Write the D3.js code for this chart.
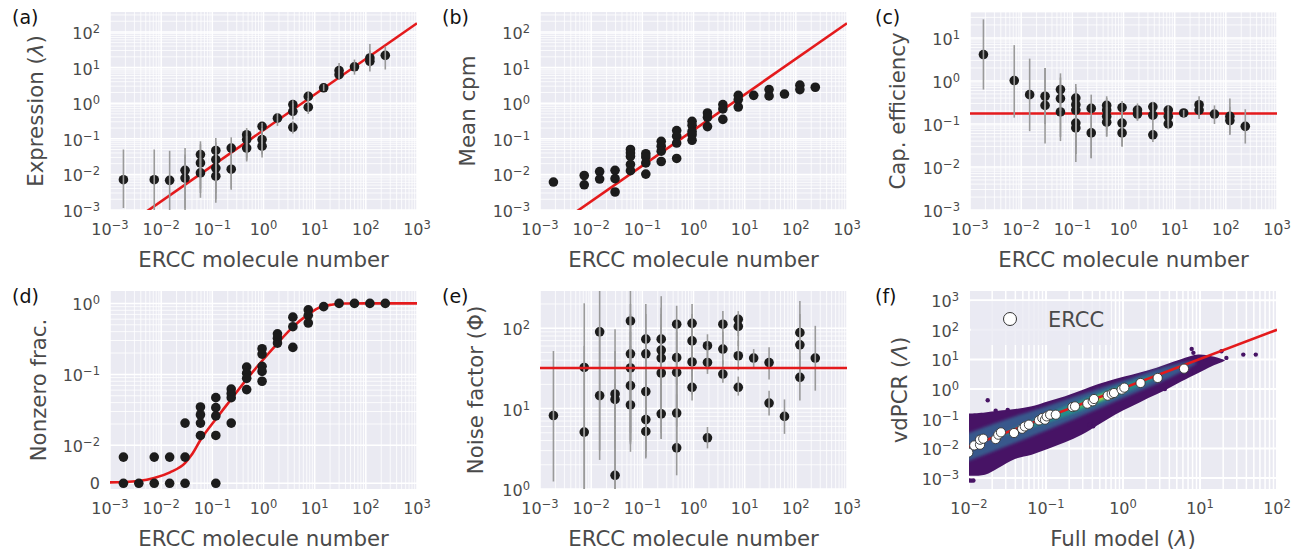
<!DOCTYPE html>
<html>
<head>
<meta charset="utf-8">
<script src="https://cdn.jsdelivr.net/npm/d3@7"></script>
<style>
  body { margin: 0; background: #fff; }
  text { font-family: "DejaVu Sans", sans-serif; }
</style>
</head>
<body>
<svg id="chart" width="1299" height="553"></svg>
<script>
// ---- data ----
// ERCC molecule number (x), value, error low, error high
const exprData = [
  [0.00183, 0.0071, 0.00114, 0.05], [0.00732, 0.0071, 0.0009, 0.05], [0.01465, 0.0068, 0.0009, 0.046],
  [0.0293, 0.013, 0.0009, 0.055], [0.0293, 0.0079, 0.0011, 0.036],
  [0.0586, 0.036, 0.0022, 0.085], [0.0586, 0.021, 0.003, 0.07], [0.0586, 0.011, 0.004, 0.03],
  [0.117, 0.047, 0.0016, 0.105], [0.117, 0.026, 0.003, 0.08], [0.117, 0.015, 0.004, 0.05], [0.117, 0.0089, 0.002, 0.04],
  [0.234, 0.055, 0.0037, 0.11], [0.234, 0.014, 0.004, 0.035],
  [0.469, 0.13, 0.03, 0.2], [0.469, 0.095, 0.025, 0.18], [0.469, 0.055, 0.023, 0.12],
  [0.9375, 0.224, 0.07, 0.28], [0.9375, 0.095, 0.036, 0.2], [0.9375, 0.062, 0.03, 0.15],
  [1.875, 0.38, 0.23, 0.53],
  [3.75, 0.91, 0.5, 1.2], [3.75, 0.59, 0.35, 1.0], [3.75, 0.21, 0.14, 0.31],
  [7.5, 1.55, 0.9, 2.2], [7.5, 0.77, 0.5, 1.4],
  [15, 2.7, 2.2, 3.4],
  [30, 8.2, 5, 13.5], [30, 6.3, 4.6, 10],
  [60, 10.5, 6.3, 16.8],
  [120, 18.6, 10, 46], [120, 15, 7.8, 30],
  [240, 22, 8.8, 39]
];

const cpmData = [
  [0.00183, 0.0061],
  [0.00732, 0.0093], [0.00732, 0.0051],
  [0.01465, 0.012], [0.01465, 0.0074],
  [0.0293, 0.013], [0.0293, 0.0076], [0.0293, 0.0032],
  [0.0586, 0.05], [0.0586, 0.04], [0.0586, 0.032], [0.0586, 0.019], [0.0586, 0.0127],
  [0.117, 0.038], [0.117, 0.031], [0.117, 0.021], [0.117, 0.0102],
  [0.234, 0.085], [0.234, 0.062], [0.234, 0.045], [0.234, 0.023],
  [0.469, 0.17], [0.469, 0.118], [0.469, 0.076], [0.469, 0.028],
  [0.9375, 0.31], [0.9375, 0.24], [0.9375, 0.16], [0.9375, 0.13], [0.9375, 0.091],
  [1.875, 0.53], [1.875, 0.40], [1.875, 0.22],
  [3.75, 0.91], [3.75, 0.69], [3.75, 0.35],
  [7.5, 1.66], [7.5, 1.26], [7.5, 0.78],
  [15, 1.66],
  [30, 2.4], [30, 1.6],
  [60, 1.8],
  [120, 3.2], [120, 2.4],
  [240, 2.8]
];

const capData = [
  [0.00183, 4.1, 0.63, 27], [0.00732, 1.02, 0.14, 6.8], [0.01465, 0.48, 0.068, 3.3],
  [0.0293, 0.44, 0.1, 2.0], [0.0293, 0.27, 0.035, 2.0],
  [0.0586, 0.63, 0.2, 1.5], [0.0586, 0.39, 0.04, 1.2], [0.0586, 0.19, 0.05, 0.8],
  [0.117, 0.4, 0.05, 0.85], [0.117, 0.28, 0.013, 0.7], [0.117, 0.21, 0.03, 0.5], [0.117, 0.105, 0.02, 0.4], [0.117, 0.081, 0.02, 0.3],
  [0.234, 0.23, 0.016, 0.48], [0.234, 0.062, 0.016, 0.15],
  [0.469, 0.27, 0.1, 0.44], [0.469, 0.21, 0.07, 0.4], [0.469, 0.15, 0.051, 0.3], [0.469, 0.11, 0.051, 0.25],
  [0.9375, 0.24, 0.08, 0.34], [0.9375, 0.105, 0.03, 0.2], [0.9375, 0.062, 0.03, 0.15],
  [1.875, 0.21, 0.12, 0.3], [1.875, 0.17, 0.12, 0.25],
  [3.75, 0.25, 0.13, 0.33], [3.75, 0.16, 0.08, 0.28], [3.75, 0.056, 0.038, 0.08],
  [7.5, 0.21, 0.12, 0.27], [7.5, 0.15, 0.09, 0.25], [7.5, 0.1, 0.075, 0.2],
  [15, 0.18, 0.14, 0.21],
  [30, 0.28, 0.15, 0.44], [30, 0.21, 0.13, 0.35],
  [60, 0.17, 0.1, 0.27],
  [120, 0.15, 0.059, 0.39], [120, 0.12, 0.055, 0.25],
  [240, 0.088, 0.035, 0.22]
];

const nonzeroData = [
  [0.00183, 0.0069], [0.00183, 0], [0.00366, 0],
  [0.00732, 0.0069], [0.00732, 0], [0.01465, 0.0069], [0.01465, 0],
  [0.0293, 0.0206], [0.0293, 0.0069], [0.0293, 0],
  [0.0586, 0.0347], [0.0586, 0.027], [0.0586, 0.0206], [0.0586, 0.0138],
  [0.117, 0.047], [0.117, 0.034], [0.117, 0.026], [0.117, 0.0138], [0.117, 0],
  [0.234, 0.062], [0.234, 0.054], [0.234, 0.047], [0.234, 0.0206],
  [0.469, 0.127], [0.469, 0.104], [0.469, 0.088], [0.469, 0.061],
  [0.9375, 0.23], [0.9375, 0.193], [0.9375, 0.13], [0.9375, 0.11], [0.9375, 0.08],
  [1.875, 0.373], [1.875, 0.324], [1.875, 0.276],
  [3.75, 0.64], [3.75, 0.47], [3.75, 0.24],
  [7.5, 0.81], [7.5, 0.68], [7.5, 0.53],
  [15, 0.9], [30, 1.0], [60, 1.0], [120, 1.0], [240, 1.0]
];
const nonzeroCurve = [
  [0.001, 0.00026], [0.00196, 0.00034], [0.00357, 0.0006], [0.0073, 0.0014], [0.0149, 0.0029],
  [0.0292, 0.0053], [0.0394, 0.0075], [0.059, 0.012], [0.1175, 0.0235], [0.23, 0.044],
  [0.467, 0.085], [0.915, 0.152], [1.86, 0.272], [3.68, 0.46], [7.24, 0.69], [11.7, 0.86],
  [21.3, 0.96], [39, 0.995], [100, 1.0], [1000, 1.0]
];

const noiseData = [
  [0.00183, 8.2, 1.24, 52],
  [0.00732, 32.5, 1, 204], [0.00732, 5.1, 1, 60],
  [0.01465, 90, 2.3, 300], [0.01465, 14.5, 3, 100],
  [0.0293, 15.2, 1, 97], [0.0293, 13, 3.2, 52], [0.0293, 1.48, 1, 20],
  [0.0586, 123, 3.6, 300], [0.0586, 48, 5, 200], [0.0586, 32, 4, 150], [0.0586, 19.3, 2.9, 90], [0.0586, 11.1, 3.8, 60],
  [0.117, 73, 3, 200], [0.117, 48, 3, 150], [0.117, 16.3, 2.4, 80], [0.117, 7.3, 3, 40], [0.117, 5.2, 2.5, 30],
  [0.234, 73, 10, 250], [0.234, 53.5, 4.2, 180], [0.234, 42.5, 8, 150], [0.234, 27.7, 5, 110], [0.234, 8.6, 4.2, 40],
  [0.469, 112, 20, 190], [0.469, 43, 10, 120], [0.469, 28.2, 6, 90], [0.469, 8.8, 3, 30], [0.469, 3.25, 1.48, 15],
  [0.9375, 115, 40, 200], [0.9375, 69.5, 25, 150], [0.9375, 38, 15, 100], [0.9375, 18.4, 12.6, 40],
  [1.875, 60.5, 30, 84], [1.875, 37.5, 27, 60], [1.875, 4.33, 3.2, 5.9],
  [3.75, 112, 60, 163], [3.75, 55, 35, 90], [3.75, 26.9, 21, 40],
  [7.5, 129, 80, 163], [7.5, 105, 60, 150], [7.5, 45.4, 30, 70], [7.5, 18.4, 14.5, 25],
  [15, 42.5, 32, 55],
  [30, 37.3, 23, 58], [30, 11.7, 8.2, 16.7],
  [60, 8.0, 4.85, 13],
  [120, 88, 40, 218], [120, 62, 25, 150], [120, 24.5, 12.6, 45],
  [240, 42.5, 16.7, 107]
];

// fits
const fitLine = [[1e-3, 1.75e-4], [1e3, 175]];
const capLevel = 0.175;
const noiseLevel = 32;
const diagLine = [[0.01, 0.0115], [100, 100]];

// panel (f): ERCC vs full model, density cloud layers [x, low, high]
const erccF = [
  [0.0098, 0.0072], [0.0117, 0.0126], [0.0139, 0.0133], [0.0139, 0.0196], [0.0153, 0.0212], [0.0222, 0.0207],
  [0.024, 0.029], [0.026, 0.0348], [0.0384, 0.033], [0.049, 0.046], [0.053, 0.055], [0.06, 0.063],
  [0.081, 0.088], [0.0895, 0.106], [0.097, 0.093], [0.102, 0.12], [0.113, 0.137], [0.134, 0.137],
  [0.22, 0.249], [0.238, 0.262], [0.344, 0.323], [0.404, 0.387], [0.42, 0.464], [0.632, 0.601],
  [0.713, 0.685], [0.764, 0.74], [0.96, 0.96], [1.04, 1.12], [1.69, 1.61], [2.82, 2.38], [6.2, 4.9]
];
const cloudOuter = [
  [0.0095, 0.00119, 0.148], [0.0161, 0.00129, 0.164], [0.024, 0.0022, 0.187], [0.0395, 0.0044, 0.213],
  [0.0652, 0.0061, 0.262], [0.107, 0.0097, 0.387], [0.177, 0.016, 0.571], [0.29, 0.029, 0.91],
  [0.479, 0.063, 1.49], [0.787, 0.137, 2.2], [1.3, 0.262, 3.08], [2.13, 0.5, 4.3], [3.51, 0.91, 6.7],
  [5.78, 1.84, 10.4], [9.5, 3.5, 14.6], [14.2, 5.9, 12.8], [19.1, 8.0, 10.4], [21, 9.2, 9.6]
];
const cloudMid = [
  [0.0095, 0.0036, 0.032], [0.03, 0.0115, 0.095], [0.1, 0.04, 0.26], [0.3, 0.13, 0.68],
  [1, 0.5, 1.9], [3, 1.7, 5.0], [7, 5, 8.6], [9, 7.6, 8.4]
];
const cloudTeal = [
  [0.03, 0.028, 0.034], [0.1, 0.072, 0.14], [0.3, 0.2, 0.45], [1, 0.72, 1.4], [2, 1.6, 2.5], [3.2, 2.8, 3.1]
];
const cloudGreen = [
  [0.2, 0.19, 0.21], [0.4, 0.33, 0.49], [0.7, 0.58, 0.86], [1.1, 1.02, 1.2]
];
const cloudYellow = [
  [0.38, 0.37, 0.4], [0.5, 0.45, 0.55], [0.65, 0.6, 0.71], [0.8, 0.78, 0.82]
];
const cloudOutliers = [
  [0.0175, 0.42], [0.0222, 0.187], [0.0318, 0.2], [0.37, 0.063], [0.41, 0.056], [3.5, 1.0],
  [7.8, 22.7], [8.2, 16.7], [11.9, 10.4], [19, 19], [22, 11.3], [36.5, 14.6], [53, 14.6],
  [0.0102, 0.00083], [0.0108, 0.00082], [0.0114, 0.00083]
];

// ---- drawing ----
const svg = d3.select("#chart");
const defs = svg.append("defs");
defs.append("filter").attr("id", "soft").attr("x", "-20%").attr("y", "-20%").attr("width", "140%").attr("height", "140%")
  .append("feGaussianBlur").attr("stdDeviation", 1.8);

const RED = "#e41a1c", DOT = "#1c1c1c", BAR = "#9a9a9a", TXT = "#4a4a4a", BG = "#eaeaf2";

function logMajors(lo, hi) {
  const a = [];
  for (let e = Math.ceil(Math.log10(lo) - 1e-9); e <= Math.floor(Math.log10(hi) + 1e-9); e++) a.push(Math.pow(10, e));
  return a;
}
function logMinors(lo, hi) {
  const a = [];
  for (let e = Math.floor(Math.log10(lo)); e <= Math.ceil(Math.log10(hi)); e++)
    for (let k = 2; k < 10; k++) { const v = k * Math.pow(10, e); if (v >= lo && v <= hi) a.push(v); }
  return a;
}
function powLabel(sel, v) {
  if (v === 0) { sel.text("0"); return; }
  const e = Math.round(Math.log10(v));
  sel.append("tspan").text("10");
  sel.append("tspan").attr("dy", -6).attr("font-size", 11.5).text(e < 0 ? "\u2212" + (-e) : e);
}

function frame(p) {
  const g = svg.append("g");
  defs.append("clipPath").attr("id", "clip-" + p.id).append("rect")
    .attr("x", p.l).attr("y", p.t).attr("width", p.r - p.l).attr("height", p.b - p.t);
  g.append("rect").attr("x", p.l).attr("y", p.t).attr("width", p.r - p.l).attr("height", p.b - p.t).attr("fill", BG);
  const grid = g.append("g").attr("stroke", "#fff");
  grid.selectAll(".xm").data(p.xMin).join("line")
    .attr("x1", d => p.x(d)).attr("x2", d => p.x(d)).attr("y1", p.t).attr("y2", p.b).attr("stroke-width", p.minW);
  grid.selectAll(".ym").data(p.yMin).join("line")
    .attr("y1", d => p.y(d)).attr("y2", d => p.y(d)).attr("x1", p.l).attr("x2", p.r).attr("stroke-width", p.minW);
  grid.selectAll(".xM").data(p.xMaj).join("line")
    .attr("x1", d => p.x(d)).attr("x2", d => p.x(d)).attr("y1", p.t).attr("y2", p.b).attr("stroke-width", p.majW);
  grid.selectAll(".yM").data(p.yMaj).join("line")
    .attr("y1", d => p.y(d)).attr("y2", d => p.y(d)).attr("x1", p.l).attr("x2", p.r).attr("stroke-width", p.majW);

  const lab = g.append("g").attr("fill", TXT).attr("font-size", 16);
  p.xMaj.forEach(v => powLabel(lab.append("text").attr("x", p.x(v)).attr("y", p.b + 25).attr("text-anchor", "middle"), v));
  p.yMaj.forEach(v => powLabel(lab.append("text").attr("x", p.l - 10).attr("y", p.y(v) + (v === 0 ? 6 : 7)).attr("text-anchor", "end"), v));

  const xt = g.append("text").attr("x", (p.l + p.r) / 2).attr("y", p.b + 57).attr("text-anchor", "middle")
    .attr("font-size", 21.3).attr("fill", TXT);
  p.xLabel.forEach(s => xt.append("tspan").attr("font-style", s[1] ? "italic" : null).text(s[0]));
  const yt = g.append("text").attr("transform", `translate(${p.l - p.yOff},${(p.t + p.b) / 2}) rotate(-90)`)
    .attr("text-anchor", "middle").attr("font-size", 21.3).attr("fill", TXT);
  p.yLabel.forEach(s => yt.append("tspan").attr("font-style", s[1] ? "italic" : null).text(s[0]));

  svg.append("text").attr("x", p.l - p.tagDx).attr("y", p.t + 12).attr("font-family", "Liberation Sans, Arial, sans-serif")
    .attr("font-size", 19).attr("fill", "#111").text(p.tag);

  return g.append("g").attr("clip-path", `url(#clip-${p.id})`);
}

const ercc = ["ERCC molecule number"];
function xErcc(l) { return d3.scaleLog().domain([1e-3, 1e3]).range([l, l + 307]); }
const xMajE = logMajors(1e-3, 1e3), xMinE = logMinors(1e-3, 1e3);

function errDots(body, x, y, data) {
  body.selectAll(".dot").data(data).join("circle")
    .attr("cx", d => x(d[0])).attr("cy", d => y(d[1])).attr("r", 4.8).attr("fill", DOT);
  if (data[0].length > 2)
    body.selectAll(".err").data(data).join("line")
      .attr("x1", d => x(d[0])).attr("x2", d => x(d[0]))
      .attr("y1", d => y(d[2])).attr("y2", d => y(d[3]))
      .attr("stroke", BAR).attr("stroke-width", 1.6);
}
function redLine(body, x, y, pts) {
  body.append("path").datum(pts).attr("fill", "none").attr("stroke", RED).attr("stroke-width", 2.6)
    .attr("d", d3.line().x(d => x(d[0])).y(d => y(d[1])));
}

// (a)
{
  const x = xErcc(110), y = d3.scaleLog().domain([1e-3, 363]).range([210, 12]);
  const body = frame({ id: "a", tag: "(a)", tagDx: 98, l: 110, r: 417, t: 12, b: 210, x, y,
    xMaj: xMajE, xMin: xMinE, yMaj: logMajors(1e-3, 363), yMin: logMinors(1e-3, 363), majW: 1.5, minW: 0.8,
    xLabel: [ercc], yLabel: [["Expression ("], ["\u03bb", 1], [")"]], yOff: 67 });
  redLine(body, x, y, fitLine);
  errDots(body, x, y, exprData);
}
// (b)
{
  const x = xErcc(540), y = d3.scaleLog().domain([1e-3, 363]).range([210, 12]);
  const body = frame({ id: "b", tag: "(b)", tagDx: 98, l: 540, r: 847, t: 12, b: 210, x, y,
    xMaj: xMajE, xMin: xMinE, yMaj: logMajors(1e-3, 363), yMin: logMinors(1e-3, 363), majW: 1.5, minW: 0.8,
    xLabel: [ercc], yLabel: [["Mean cpm"]], yOff: 65 });
  redLine(body, x, y, fitLine);
  errDots(body, x, y, cpmData);
}
// (c)
{
  const x = xErcc(970), y = d3.scaleLog().domain([1e-3, 40]).range([210, 12]);
  const body = frame({ id: "c", tag: "(c)", tagDx: 95, l: 970, r: 1277, t: 12, b: 210, x, y,
    xMaj: xMajE, xMin: xMinE, yMaj: logMajors(1e-3, 40), yMin: logMinors(1e-3, 40), majW: 1.5, minW: 0.8,
    xLabel: [ercc], yLabel: [["Cap. efficiency"]], yOff: 65 });
  redLine(body, x, y, [[1e-3, capLevel], [1e3, capLevel]]);
  errDots(body, x, y, capData);
}
// (d) symmetric-log y axis: linear below 0.01
{
  const lin = 0.01, linW = 0.535;
  const tf = v => v <= lin ? v / lin * linW : linW + Math.log10(v / lin);
  const yl = d3.scaleLinear().domain([-0.08, 2.71]).range([489, 291]);
  const y = v => yl(tf(v));
  const x = xErcc(110);
  const body = frame({ id: "d", tag: "(d)", tagDx: 98, l: 110, r: 417, t: 291, b: 489, x, y,
    xMaj: xMajE, xMin: xMinE, yMaj: [0, 0.01, 0.1, 1], yMin: logMinors(0.02, 1.4), majW: 1.5, minW: 0.8,
    xLabel: [ercc], yLabel: [["Nonzero frac."]], yOff: 64 });
  body.append("path").datum(nonzeroCurve).attr("fill", "none").attr("stroke", RED).attr("stroke-width", 2.6)
    .attr("d", d3.line().x(d => x(d[0])).y(d => y(d[1])).curve(d3.curveMonotoneX));
  errDots(body, x, y, nonzeroData);
}
// (e)
{
  const x = xErcc(540), y = d3.scaleLog().domain([1, 290]).range([489, 291]);
  const body = frame({ id: "e", tag: "(e)", tagDx: 98, l: 540, r: 847, t: 291, b: 489, x, y,
    xMaj: xMajE, xMin: xMinE, yMaj: logMajors(1, 290), yMin: logMinors(1, 290), majW: 1.5, minW: 0.8,
    xLabel: [ercc], yLabel: [["Noise factor (\u03a6)"]], yOff: 57 });
  errDots(body, x, y, noiseData);
  redLine(body, x, y, [[1e-3, noiseLevel], [1e3, noiseLevel]]);
}
// (f)
{
  const x = d3.scaleLog().domain([1e-2, 1e2]).range([969, 1277]);
  const y = d3.scaleLog().domain([Math.pow(10, -3.37), Math.pow(10, 3.31)]).range([489, 291]);
  const body = frame({ id: "f", tag: "(f)", tagDx: 94, l: 969, r: 1277, t: 291, b: 489, x, y,
    xMaj: logMajors(1e-2, 1e2), xMin: logMinors(1e-2, 1e2), yMaj: logMajors(1e-3, 1e3), yMin: [], majW: 2, minW: 1.5,
    xLabel: [["Full model ("], ["\u03bb", 1], [")"]], yLabel: [["vdPCR ("], ["\u039b", 1], [")"]], yOff: 62 });

  const leg = body.append("g");
  leg.append("rect").attr("x", 971).attr("y", 301).attr("width", 140).attr("height", 44)
    .attr("fill", BG).attr("opacity", 0.8);

  const area = d3.area().x(d => x(d[0])).y0(d => y(d[1])).y1(d => y(d[2])).curve(d3.curveCatmullRom);
  const layers = [[cloudOuter, 0.05, false], [cloudMid, 0.27, true], [cloudTeal, 0.5, true], [cloudGreen, 0.75, true], [cloudYellow, 0.97, true]];
  layers.forEach(([pts, c, blur]) => {
    body.append("path").datum(pts).attr("d", area).attr("fill", d3.interpolateViridis(c))
      .attr("filter", blur ? "url(#soft)" : null);
  });
  body.selectAll(".out").data(cloudOutliers).join("circle")
    .attr("cx", d => x(d[0])).attr("cy", d => y(d[1])).attr("r", 2.2).attr("fill", d3.interpolateViridis(0.05));
  redLine(body, x, y, diagLine);
  body.selectAll(".ercc").data(erccF).join("circle")
    .attr("cx", d => x(d[0])).attr("cy", d => y(d[1])).attr("r", 4.6)
    .attr("fill", "#fff").attr("stroke", "#333").attr("stroke-width", 0.9);

  body.append("circle").attr("cx", 1010).attr("cy", 319).attr("r", 6.5)
    .attr("fill", "#fff").attr("stroke", "#333").attr("stroke-width", 1);
  body.append("text").attr("x", 1048).attr("y", 327).attr("font-size", 21).attr("fill", TXT).text("ERCC");
}
</script>
</body>
</html>
